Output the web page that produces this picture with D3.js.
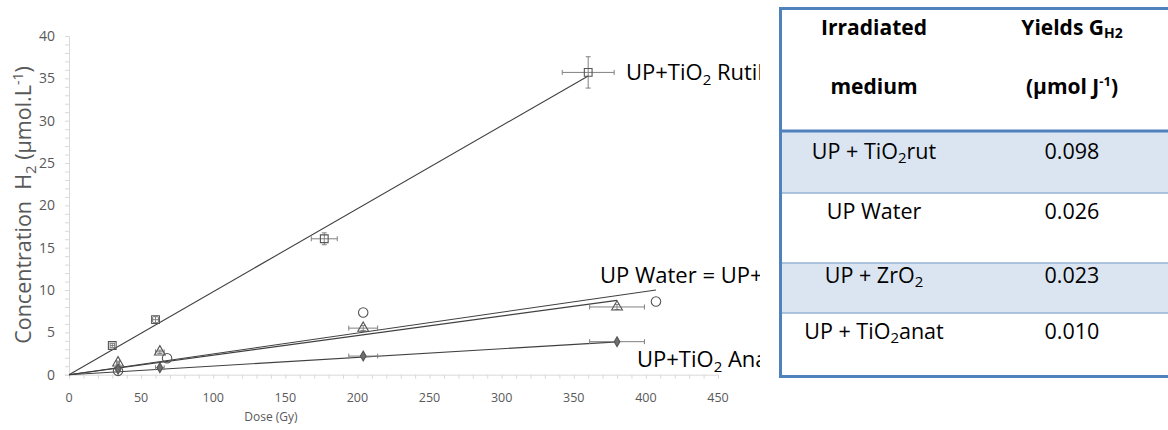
<!DOCTYPE html>
<html>
<head>
<meta charset="utf-8">
<script src="https://cdn.jsdelivr.net/npm/d3@7"></script>
<style>
  body { margin: 0; background: #fff; }
  svg { display: block; font-family: "Open Sans", sans-serif; }
</style>
</head>
<body>
<svg width="1168" height="430"></svg>
<script>
var svg = d3.select("svg");

// Measured points (dose in Gy, H2 in µmol/L), with error bars
var rutileDose = [30, 60, 177, 360],
    rutileConc = [3.45, 6.5, 16.05, 35.7],
    rutileXErr = [1.5, 2, 9, 18],
    rutileYErr = [0.25, 0.35, 0.7, 1.85];

var waterDose = [34, 68, 204, 407],
    waterConc = [0.45, 1.95, 7.35, 8.65];

var zrDose = [34, 63, 204, 380],
    zrConc = [1.4, 2.7, 5.5, 8.0],
    zrXErr = [1, 3, 10, 19],
    zrYErr = [0.2, 0.2, 0.3, 0.3];

var anatDose = [34, 63, 204, 380],
    anatConc = [0.65, 0.83, 2.2, 3.9],
    anatXErr = [1, 3, 10, 19];

// Linear fits through the origin: slope and last dose
var fitNames = ["rutile", "water", "zro2", "anatase"],
    fitSlope = [0.098, 0.0246, 0.0231, 0.0102],
    fitEnd = [360, 407, 380, 380];

var xTicks = [0, 50, 100, 150, 200, 250, 300, 350, 400, 450],
    yTicks = [0, 5, 10, 15, 20, 25, 30, 35, 40];

// Table contents
var tableMedium = ["UP + TiO|2|rut", "UP Water", "UP + ZrO|2|", "UP + TiO|2|anat"],
    tableYield = ["0.098", "0.026", "0.023", "0.010"];

var x = d3.scaleLinear().domain([0, 450]).range([69, 718]);
var y = d3.scaleLinear().domain([0, 40]).range([374.7, 36]);

var axisColor = "#d9d9d9", textColor = "#595959", lineColor = "#404040", errColor = "#808080";

// ---- axes
var yAxis = svg.append("g").attr("transform", "translate(" + x(0) + ",0)")
  .call(d3.axisLeft(y).ticks(40).tickSize(4).tickFormat(""));
var xAxis = svg.append("g").attr("transform", "translate(0," + y(0) + ")")
  .call(d3.axisBottom(x).ticks(45).tickSize(4).tickFormat(""));
[xAxis, yAxis].forEach(function(a) {
  a.select(".domain").attr("stroke", axisColor);
  a.selectAll(".tick line").attr("stroke", axisColor);
});

svg.selectAll(".ylab").data(yTicks).enter().append("text")
  .attr("x", 55).attr("y", function(d) { return y(d); })
  .attr("dy", "0.35em").attr("text-anchor", "end")
  .attr("font-size", 14).attr("fill", textColor)
  .text(function(d) { return d; });

svg.selectAll(".xlab").data(xTicks).enter().append("text")
  .attr("x", function(d) { return x(d); }).attr("y", 402)
  .attr("text-anchor", "middle")
  .attr("font-size", 12.5).attr("fill", textColor)
  .text(function(d) { return d; });

svg.append("text").attr("x", 271).attr("y", 421)
  .attr("text-anchor", "middle").attr("font-size", 12).attr("fill", textColor)
  .text("Dose (Gy)");

var yTitle = svg.append("text")
  .attr("transform", "translate(31,205) rotate(-90)")
  .attr("text-anchor", "middle").attr("font-size", 21.5).attr("fill", textColor);
yTitle.append("tspan").text("Concentration\u00a0\u00a0H");
yTitle.append("tspan").attr("font-size", 15).attr("dy", 5).text("2");
yTitle.append("tspan").attr("dy", -5).text(" (µmol.L");
yTitle.append("tspan").attr("font-size", 14).attr("dy", -8).text("-1");
yTitle.append("tspan").attr("dy", 8).text(")");

// ---- fit lines
var fits = svg.append("g");
fitSlope.forEach(function(s, i) {
  fits.append("line").attr("class", "fit " + fitNames[i])
    .attr("x1", x(0)).attr("y1", y(0))
    .attr("x2", x(fitEnd[i])).attr("y2", y(s * fitEnd[i]))
    .attr("stroke", lineColor).attr("stroke-width", 1.1);
});

// ---- error bars
function errorBars(dose, conc, xErr, yErr) {
  var g = svg.append("g").attr("stroke", errColor).attr("stroke-width", 1);
  dose.forEach(function(d, i) {
    var cx = x(d), cy = y(conc[i]);
    if (xErr && xErr[i]) {
      var x1 = x(d - xErr[i]), x2 = x(d + xErr[i]);
      g.append("line").attr("x1", x1).attr("x2", x2).attr("y1", cy).attr("y2", cy);
      g.append("line").attr("x1", x1).attr("x2", x1).attr("y1", cy - 2.5).attr("y2", cy + 2.5);
      g.append("line").attr("x1", x2).attr("x2", x2).attr("y1", cy - 2.5).attr("y2", cy + 2.5);
    }
    if (yErr && yErr[i]) {
      var y1 = y(conc[i] - yErr[i]), y2 = y(conc[i] + yErr[i]);
      g.append("line").attr("x1", cx).attr("x2", cx).attr("y1", y1).attr("y2", y2);
      g.append("line").attr("x1", cx - 2.5).attr("x2", cx + 2.5).attr("y1", y1).attr("y2", y1);
      g.append("line").attr("x1", cx - 2.5).attr("x2", cx + 2.5).attr("y1", y2).attr("y2", y2);
    }
  });
}
errorBars(rutileDose, rutileConc, rutileXErr, rutileYErr);
errorBars(zrDose, zrConc, zrXErr, zrYErr);
errorBars(anatDose, anatConc, anatXErr, null);

// ---- markers
function markers(dose, conc, type, size, fill) {
  svg.append("g").selectAll("path").data(dose).enter().append("path")
    .attr("transform", function(d, i) { return "translate(" + x(d) + "," + y(conc[i]) + ")"; })
    .attr("d", d3.symbol().type(type).size(size))
    .attr("fill", fill).attr("stroke", "#555").attr("stroke-width", 1.1);
}
markers(rutileDose, rutileConc, d3.symbolSquare, 60, "none");
markers(waterDose, waterConc, d3.symbolCircle, 70, "none");
markers(zrDose, zrConc, d3.symbolTriangle, 50, "none");
markers(anatDose, anatConc, d3.symbolDiamond, 28, "#6e6e6e");

// ---- series labels (clipped where the table starts)
svg.append("clipPath").attr("id", "plotclip")
  .append("rect").attr("x", 0).attr("y", 0).attr("width", 760).attr("height", 430);
var labels = svg.append("g").attr("clip-path", "url(#plotclip)")
  .attr("font-size", 22).attr("fill", "#000");

function seriesLabel(px, py, pre, post) {
  var t = labels.append("text").attr("x", px).attr("y", py);
  t.append("tspan").text(pre);
  if (post !== null) {
    t.append("tspan").attr("font-size", 15).attr("dy", 5).text("2");
    t.append("tspan").attr("dy", -5).text(post);
  }
}
seriesLabel(626, 80, "UP+TiO", " Rutile");
seriesLabel(600, 283, "UP Water = UP+ZrO", "");
seriesLabel(637, 367, "UP+TiO", " Anatase");

// ---- table
var tbl = svg.append("g");
var rowTop = [130, 193, 263, 313], rowBot = [193, 263, 313, 376];
var shaded = [true, false, true, false];
var colMid = [874, 1072];
var rowBase = [159, 219, 283, 339];

rowTop.forEach(function(t, i) {
  if (shaded[i]) tbl.append("rect").attr("x", 781).attr("y", t).attr("width", 400)
    .attr("height", rowBot[i] - t).attr("fill", "#dbe5f1");
});
[193, 263, 313].forEach(function(yy) {
  tbl.append("line").attr("x1", 781).attr("x2", 1168).attr("y1", yy).attr("y2", yy)
    .attr("stroke", "#95b3d7").attr("stroke-width", 1.5);
});
tbl.append("line").attr("x1", 781).attr("x2", 1168).attr("y1", 131).attr("y2", 131)
  .attr("stroke", "#4f81bd").attr("stroke-width", 3);
tbl.append("line").attr("x1", 779).attr("x2", 1168).attr("y1", 8.5).attr("y2", 8.5)
  .attr("stroke", "#4f81bd").attr("stroke-width", 3);
tbl.append("line").attr("x1", 779).attr("x2", 1168).attr("y1", 376.5).attr("y2", 376.5)
  .attr("stroke", "#4f81bd").attr("stroke-width", 3);
tbl.append("line").attr("x1", 780.5).attr("x2", 780.5).attr("y1", 7).attr("y2", 378)
  .attr("stroke", "#4f81bd").attr("stroke-width", 3);

var head = tbl.append("g").attr("font-weight", "bold").attr("font-size", 21)
  .attr("text-anchor", "middle").attr("fill", "#000");
head.append("text").attr("x", colMid[0]).attr("y", 35).text("Irradiated");
head.append("text").attr("x", colMid[0]).attr("y", 94).text("medium");
var h2 = head.append("text").attr("x", colMid[1]).attr("y", 35);
h2.append("tspan").text("Yields G");
h2.append("tspan").attr("font-size", 14).attr("dy", 3).text("H2");
var h3 = head.append("text").attr("x", colMid[1]).attr("y", 94);
h3.append("tspan").text("(µmol J");
h3.append("tspan").attr("font-size", 13).attr("dy", -8).text("-1");
h3.append("tspan").attr("dy", 8).text(")");

tableMedium.forEach(function(m, i) {
  var parts = m.split("|");
  var t = tbl.append("text").attr("x", colMid[0]).attr("y", rowBase[i])
    .attr("text-anchor", "middle").attr("font-size", 21.5).attr("fill", "#000");
  t.append("tspan").text(parts[0]);
  if (parts.length > 1) {
    t.append("tspan").attr("font-size", 15).attr("dy", 4).text(parts[1]);
    t.append("tspan").attr("dy", -4).text(parts[2]);
  }
  tbl.append("text").attr("x", colMid[1]).attr("y", rowBase[i])
    .attr("text-anchor", "middle").attr("font-size", 21.5).attr("fill", "#000")
    .text(tableYield[i]);
});
</script>
</body>
</html>
